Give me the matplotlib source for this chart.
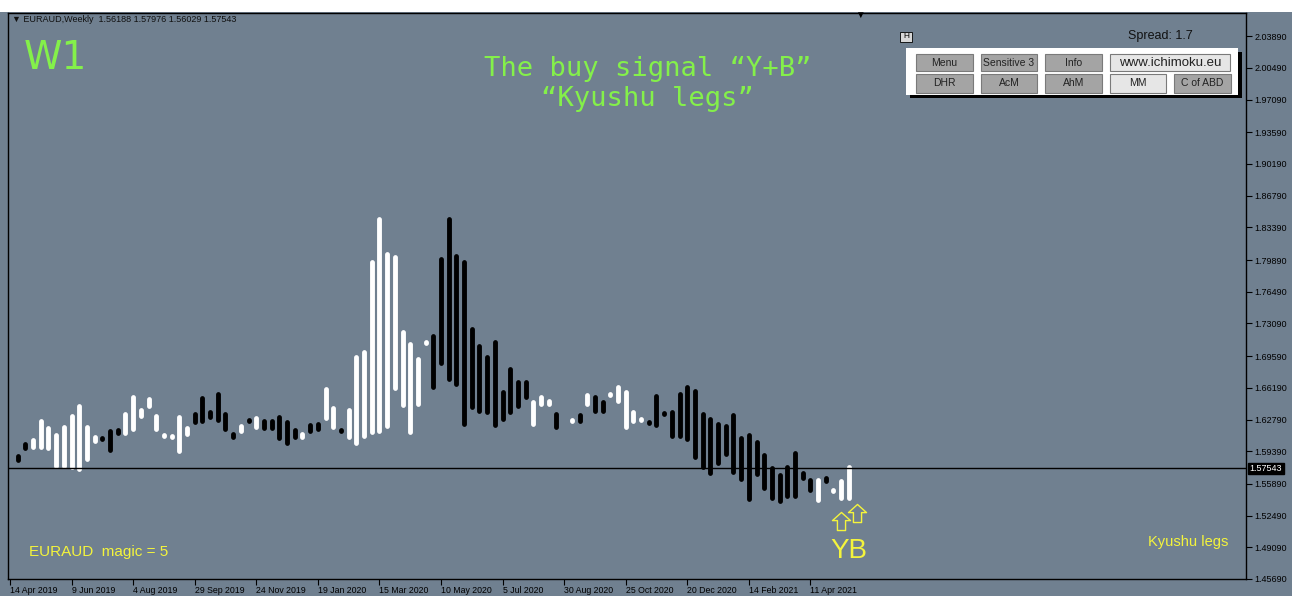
import matplotlib.pyplot as plt
import numpy as np
import pandas as pd
from matplotlib.patches import Rectangle
from matplotlib.path import Path
from matplotlib.transforms import blended_transform_factory

plt.rcParams['font.family'] = ['Liberation Sans', 'DejaVu Sans']

# Wochenkerzen EURAUD (oberes / unteres Ende, Richtung W=steigend, B=fallend)
first_week = "2019-04-21"
bar_hi = [1.5912, 1.6038, 1.6087, 1.6284, 1.6212, 1.6140, 1.6223, 1.6348, 1.6455, 1.6223,
          1.6116, 1.6098, 1.6180, 1.6198, 1.6365, 1.6544, 1.6402, 1.6520, 1.6348, 1.6140,
          1.6126, 1.6330, 1.6212, 1.6365, 1.6533, 1.6391, 1.6580, 1.6365, 1.6151, 1.6234,
          1.6295, 1.6323, 1.6284, 1.6284, 1.6330, 1.6276, 1.6188, 1.6151, 1.6241, 1.6259,
          1.6627, 1.6430, 1.6188, 1.6408, 1.6973, 1.7026, 1.7991, 1.8455, 1.8080, 1.8044,
          1.7241, 1.7115, 1.6955, 1.7134, 1.7206, 1.8026, 1.8455, 1.8062, 1.7991, 1.7276,
          1.7098, 1.6973, 1.7134, 1.6605, 1.6851, 1.6705, 1.6712, 1.6498, 1.6544, 1.6509,
          1.6365, 1.6276, 1.6295, 1.6355, 1.6569, 1.6544, 1.6491, 1.6580, 1.6652, 1.6598,
          1.6384, 1.6312, 1.6269, 1.6562, 1.6365, 1.6384, 1.6580, 1.6652, 1.6616, 1.6365,
          1.6312, 1.6259, 1.6234, 1.6355, 1.6105, 1.6140, 1.6062, 1.5920, 1.5784, 1.5706,
          1.5795, 1.5948, 1.5733, 1.5652, 1.5652, 1.5677, 1.5545, 1.5642, 1.5795]
bar_lo = [1.5819, 1.5944, 1.5963, 1.5963, 1.5944, 1.5759, 1.5759, 1.5741, 1.5722, 1.5830,
          1.6027, 1.6051, 1.5926, 1.6105, 1.6105, 1.6151, 1.6295, 1.6402, 1.6151, 1.6080,
          1.6062, 1.5920, 1.6098, 1.6223, 1.6234, 1.6284, 1.6248, 1.6151, 1.6070, 1.6134,
          1.6234, 1.6169, 1.6162, 1.6162, 1.6051, 1.5998, 1.6062, 1.6070, 1.6134, 1.6151,
          1.6269, 1.6169, 1.6134, 1.6062, 1.5998, 1.6080, 1.6116, 1.6134, 1.6188, 1.6587,
          1.6408, 1.6123, 1.6419, 1.7073, 1.6598, 1.6854, 1.6686, 1.6633, 1.6205, 1.6391,
          1.6348, 1.6337, 1.6196, 1.6259, 1.6330, 1.6402, 1.6491, 1.6205, 1.6419, 1.6419,
          1.6169, 1.6223, 1.6241, 1.6234, 1.6419, 1.6348, 1.6348, 1.6520, 1.6448, 1.6169,
          1.6241, 1.6248, 1.6230, 1.6198, 1.6319, 1.6080, 1.6080, 1.6044, 1.5855, 1.5741,
          1.5677, 1.5784, 1.5883, 1.5688, 1.5615, 1.5401, 1.5670, 1.5519, 1.5412, 1.5376,
          1.5437, 1.5437, 1.5626, 1.5497, 1.5390, 1.5591, 1.5484, 1.5412, 1.5412]
bar_dir = ("BBWWWWWWWW" "WBBBWWWWWW" "WWWBBBBBBW" "BWBBBBBWBB" "WWBWWWWWWW"
           "WWWWBBBBBB" "BBBBBBBWWW" "BWWBWBBWWW" "WWBBBBBBBB" "BBBBBBBBBB" "BBBBWBWWW")

ohlc = [1.56188, 1.57976, 1.56029, 1.57543]
last_price = 1.57543

price_ticks = [2.03890, 2.00490, 1.97090, 1.93590, 1.90190, 1.86790, 1.83390, 1.79890, 1.76490,
               1.73090, 1.69590, 1.66190, 1.62790, 1.59390, 1.55890, 1.52490, 1.49090, 1.45690]
date_labels = ["14 Apr 2019", "9 Jun 2019", "4 Aug 2019", "29 Sep 2019", "24 Nov 2019",
               "19 Jan 2020", "15 Mar 2020", "10 May 2020", "5 Jul 2020", "30 Aug 2020",
               "25 Oct 2020", "20 Dec 2020", "14 Feb 2021", "11 Apr 2021"]

# Signalpfeile "Y" und "B"
arrow_idx = [107, 109]
arrow_price = [1.5194, 1.5280]

buttons = [("Menu", 916, 54, 973, 71, "#a4a4a4", 7.5), ("Sensitive 3", 981, 54, 1037, 71, "#a4a4a4", 7.5),
           ("Info", 1045, 54, 1102, 71, "#a4a4a4", 7.5), ("www.ichimoku.eu", 1110, 54, 1230, 71, "#e6e6e6", 9.5),
           ("DHR", 916, 74, 973, 93, "#a4a4a4", 7.5), ("AcM", 981, 74, 1037, 93, "#a4a4a4", 7.5),
           ("AhM", 1045, 74, 1102, 93, "#a4a4a4", 7.5), ("MM", 1110, 74, 1166, 93, "#e6e6e6", 7.5),
           ("C of ABD", 1174, 74, 1231, 93, "#a4a4a4", 7.5)]

BG = "#708090"
GREEN = "#84f04a"
YELLOW = "#f4f43c"
W, H = 1292, 596

fig = plt.figure(figsize=(W / 100, H / 100), dpi=100)
fig.patch.set_facecolor(BG)


def fx(x):
    return x / W


def fy(y):
    return 1 - y / H


def prect(x0, y0, x1, y1, **kw):
    fig.add_artist(Rectangle((fx(x0), fy(y1)), (x1 - x0) / W, (y1 - y0) / H,
                             transform=fig.transFigure, **kw))


prect(0, 0, W, 12, fc="white", ec="none")

ax = fig.add_axes([fx(8), fy(579), (1246 - 8) / W, (579 - 13) / H])
ax.set_facecolor(BG)
for s in ax.spines.values():
    s.set_color("black")
    s.set_linewidth(1)

ax.set_xlim(-1.26, 159.6)
ax.set_ylim(1.4569, 2.0638)

idx = np.arange(len(bar_hi))
hi = np.array(bar_hi)
lo = np.array(bar_lo)
cols = ["white" if d == "W" else "black" for d in bar_dir]
bar_lw = 3.5
# runde Enden: halbe Strichbreite in Preiseinheiten abziehen
px_per_price = (579 - 13) / (2.0638 - 1.4569)
cap = bar_lw * 100 / 72 / 2 / px_per_price
lc = ax.vlines(idx, lo + cap, hi - cap, colors=cols, linewidth=bar_lw)
lc.set_capstyle("round")

ax.axhline(last_price, color="black", linewidth=1)

# Achsen
ax.yaxis.tick_right()
ax.set_yticks(price_ticks)
ax.set_yticklabels([f"{v:.5f}" for v in price_ticks])
ax.tick_params(axis="y", direction="out", length=4, width=0.8, labelsize=6.5, pad=2, colors="black")

d0 = pd.Timestamp(first_week)
tick_pos = [(pd.to_datetime(s, format="%d %b %Y") - d0).days / 7 for s in date_labels]
ax.set_xticks(tick_pos)
ax.set_xticklabels(date_labels)
ax.tick_params(axis="x", direction="out", length=4, width=0.8, labelsize=6.3, pad=1, colors="black")
for t in ax.get_xticklabels():
    t.set_horizontalalignment("left")

tr = blended_transform_factory(ax.transAxes, ax.transData)
ax.text(1.003, last_price, f"{last_price:.5f}", transform=tr, fontsize=6.5, color="white",
        va="center", ha="left", bbox=dict(boxstyle="square,pad=0.15", fc="black", ec="black"))

# Signal
arrow = Path([(-1, 0.1), (0, 1), (1, 0.1), (0.45, 0.1), (0.45, -1), (-0.45, -1), (-0.45, 0.1), (-1, 0.1)],
             [Path.MOVETO] + [Path.LINETO] * 6 + [Path.CLOSEPOLY])
ax.plot(arrow_idx, arrow_price, linestyle="none", marker=arrow, markersize=13,
        markerfacecolor="none", markeredgecolor=YELLOW, markeredgewidth=1)
ax.text(idx[-1], 1.4873, "YB", color=YELLOW, fontsize=20, ha="center", va="center")

# Beschriftungen
fig.text(fx(12), fy(20), "▼ EURAUD,Weekly  " + " ".join(f"{v:.5f}" for v in ohlc),
         fontsize=6.5, color="#111111", va="center", ha="left")
fig.text(fx(860), fy(15), "▼", fontsize=7, color="black", ha="center", va="center")
fig.text(fx(24), fy(58), "W1", fontsize=28, color=GREEN, va="center", ha="left", family="DejaVu Sans")
fig.text(fx(648), fy(69), "The buy signal “Y+B”", fontsize=19.5, color=GREEN, va="center", ha="center",
         family="DejaVu Sans Mono")
fig.text(fx(647), fy(99), "“Kyushu legs”", fontsize=19.5, color=GREEN, va="center", ha="center",
         family="DejaVu Sans Mono")
fig.text(fx(29), fy(552), "EURAUD  magic = 5", fontsize=11, color=YELLOW, va="center", ha="left")
fig.text(fx(1148), fy(542), "Kyushu legs", fontsize=10.5, color=YELLOW, va="center", ha="left")
fig.text(fx(1128), fy(36), "Spread: 1.7", fontsize=9, color="#111111", va="center", ha="left")

# Knopfleiste
prect(900, 32, 912, 42, fc="#d8d8d8", ec="black", lw=0.6)
fig.text(fx(906), fy(37), "H", fontsize=6, color="black", ha="center", va="center")
prect(910, 52, 1242, 98, fc="black", ec="none")
prect(906, 48, 1238, 95, fc="white", ec="none")
for name, x0, y0, x1, y1, c, fs in buttons:
    prect(x0, y0, x1, y1, fc=c, ec="#7a7a7a", lw=0.8)
    fig.text(fx((x0 + x1) / 2), fy((y0 + y1) / 2), name, fontsize=fs, color="#222222",
             ha="center", va="center")

fig.savefig("out.png", dpi=100, facecolor=fig.get_facecolor())
